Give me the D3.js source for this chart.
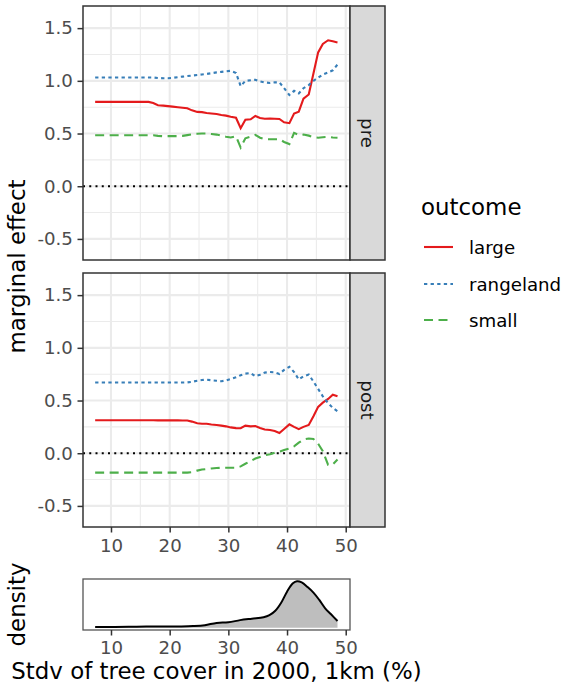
<!DOCTYPE html>
<html><head><meta charset="utf-8">
<script src="https://cdn.jsdelivr.net/npm/d3@7"></script>
<style>body{margin:0;background:#fff}svg{display:block}text{font-family:"DejaVu Sans",sans-serif}</style>
</head><body><svg id="c" width="572" height="686"></svg>
<script>
// ---------------- data ----------------
const treeCover = [7.3, 8.1, 8.9, 9.8, 10.6, 11.4, 12.3, 13.1, 13.9, 14.7, 15.6, 16.4, 17.2, 18.0, 18.9, 19.7, 20.5, 21.4, 22.2, 23.0, 23.8, 24.7, 25.5, 26.3, 27.1, 28.0, 28.8, 29.6, 30.4, 31.3, 32.1, 32.9, 33.8, 34.6, 35.4, 36.2, 37.1, 37.9, 38.7, 39.5, 40.4, 41.2, 42.0, 42.8, 43.7, 44.5, 45.3, 46.1, 47.0, 47.8, 48.6];
const periods = ["pre", "post"];
const outcomes = ["large", "rangeland", "small"];

const preLarge = [0.80,0.80,0.80,0.80,0.80,0.80,0.80,0.80,0.80,0.80,0.80,0.80,0.79,0.768,0.765,0.76,0.755,0.75,0.745,0.74,0.72,0.705,0.703,0.695,0.69,0.685,0.675,0.67,0.66,0.65,0.55,0.63,0.635,0.667,0.648,0.64,0.642,0.64,0.638,0.607,0.598,0.69,0.708,0.83,0.87,1.07,1.27,1.35,1.385,1.375,1.364];
const preRangeland = [1.032,1.032,1.032,1.032,1.032,1.032,1.032,1.032,1.032,1.032,1.032,1.032,1.032,1.027,1.025,1.025,1.028,1.035,1.04,1.045,1.05,1.055,1.06,1.065,1.072,1.08,1.085,1.09,1.095,1.075,0.95,1.0,1.005,1.01,0.995,0.985,0.98,0.985,0.985,0.93,0.865,0.905,0.88,0.93,0.96,1.0,1.03,1.06,1.08,1.10,1.155];
const preSmall = [0.484,0.484,0.484,0.484,0.484,0.484,0.484,0.484,0.484,0.484,0.484,0.484,0.484,0.478,0.475,0.475,0.475,0.476,0.478,0.485,0.492,0.498,0.50,0.50,0.495,0.49,0.48,0.47,0.462,0.475,0.367,0.455,0.47,0.487,0.46,0.446,0.446,0.446,0.446,0.42,0.40,0.506,0.486,0.49,0.48,0.465,0.46,0.465,0.468,0.462,0.46];

const postLarge = [0.313,0.313,0.313,0.313,0.313,0.313,0.313,0.313,0.313,0.313,0.313,0.313,0.313,0.312,0.312,0.312,0.312,0.312,0.311,0.31,0.30,0.285,0.28,0.28,0.272,0.268,0.262,0.255,0.245,0.238,0.237,0.262,0.255,0.258,0.24,0.225,0.22,0.21,0.192,0.23,0.274,0.25,0.228,0.25,0.268,0.35,0.44,0.48,0.515,0.555,0.54];
const postRangeland = [0.671,0.671,0.671,0.671,0.671,0.671,0.671,0.671,0.671,0.671,0.671,0.671,0.671,0.671,0.671,0.671,0.671,0.671,0.671,0.672,0.678,0.688,0.695,0.698,0.693,0.688,0.683,0.69,0.705,0.72,0.74,0.755,0.76,0.73,0.745,0.765,0.77,0.768,0.752,0.79,0.82,0.77,0.70,0.73,0.746,0.68,0.61,0.54,0.475,0.43,0.398];
const postSmall = [-0.184,-0.184,-0.184,-0.184,-0.184,-0.184,-0.184,-0.184,-0.184,-0.184,-0.184,-0.184,-0.184,-0.184,-0.184,-0.184,-0.184,-0.184,-0.184,-0.184,-0.18,-0.165,-0.155,-0.15,-0.145,-0.14,-0.138,-0.138,-0.138,-0.138,-0.125,-0.1,-0.075,-0.05,-0.035,-0.02,-0.01,0.005,0.015,0.03,0.045,0.065,0.10,0.13,0.14,0.135,0.09,0.02,-0.11,-0.105,-0.06];

const densityX = [7.3, 10, 13, 16, 19, 22, 24, 26, 28, 30, 32, 34, 36, 37, 38, 39, 40, 41, 41.7, 42.5, 43.5, 44.5, 45.5, 46.5, 47.5, 48.6];
const densityY = [0.0008, 0.0008, 0.0009, 0.0014, 0.0012, 0.0013, 0.0017, 0.0027, 0.0052, 0.0058, 0.0082, 0.0098, 0.0113, 0.0135, 0.0183, 0.027, 0.039, 0.048, 0.0502, 0.049, 0.044, 0.038, 0.030, 0.021, 0.0145, 0.0072];

const xTicks = [10, 20, 30, 40, 50];
const xMinor = [15, 25, 35, 45];
const yTicks = [-0.5, 0, 0.5, 1.0, 1.5];
const yMinor = [-0.25, 0.25, 0.75, 1.25];

// ---------------- layout ----------------
const svg = d3.select("#c");
const L = 83, R = 350, SR = 385;
const panelBox = {pre: [6, 260], post: [273, 527]};
const series = {
  pre: {large: preLarge, rangeland: preRangeland, small: preSmall},
  post: {large: postLarge, rangeland: postRangeland, small: postSmall}
};
const x = d3.scaleLinear().domain([5.23, 50.73]).range([L, R]);
const color = d3.scaleOrdinal().domain(outcomes).range(["#E41A1C", "#377EB8", "#4DAF4A"]);
const dash = {large: null, rangeland: "3.3,3.3", small: "9,5.5"};
const tickFont = 18.2, titleFont = 22.9;

function styleAxis(g) {
  g.select(".domain").remove();
  g.selectAll(".tick line").attr("stroke", "#333333").attr("stroke-width", 1.5);
  g.selectAll(".tick text").attr("fill", "#4D4D4D").attr("font-size", tickFont)
    .attr("font-family", "DejaVu Sans");
}

periods.forEach(p => {
  const [top, bot] = panelBox[p];
  const y = d3.scaleLinear().domain([-0.70, 1.71]).range([bot, top]);
  const g = svg.append("g");
  g.append("rect").attr("x", L).attr("y", top).attr("width", R - L).attr("height", bot - top).attr("fill", "#fff");
  // minor grid
  g.selectAll(".vmin").data(xMinor).join("line")
    .attr("x1", d => x(d)).attr("x2", d => x(d)).attr("y1", top).attr("y2", bot)
    .attr("stroke", "#EBEBEB").attr("stroke-width", 1.07);
  g.selectAll(".hmin").data(yMinor).join("line")
    .attr("y1", d => y(d)).attr("y2", d => y(d)).attr("x1", L).attr("x2", R)
    .attr("stroke", "#EBEBEB").attr("stroke-width", 1.07);
  // major grid
  g.selectAll(".vmaj").data(xTicks).join("line")
    .attr("x1", d => x(d)).attr("x2", d => x(d)).attr("y1", top).attr("y2", bot)
    .attr("stroke", "#EBEBEB").attr("stroke-width", 2.1);
  g.selectAll(".hmaj").data(yTicks).join("line")
    .attr("y1", d => y(d)).attr("y2", d => y(d)).attr("x1", L).attr("x2", R)
    .attr("stroke", "#EBEBEB").attr("stroke-width", 2.1);
  // zero line
  g.append("line").attr("x1", L).attr("x2", R).attr("y1", y(0)).attr("y2", y(0))
    .attr("stroke", "#000").attr("stroke-width", 2).attr("stroke-dasharray", "2,4.25");
  // series
  const line = d3.line().x((d, i) => x(treeCover[i])).y(d => y(d));
  outcomes.forEach(o => {
    g.append("path").attr("d", line(series[p][o])).attr("fill", "none")
      .attr("stroke", color(o)).attr("stroke-width", 2.1)
      .attr("stroke-dasharray", dash[o]);
  });
  // border
  g.append("rect").attr("x", L).attr("y", top).attr("width", R - L).attr("height", bot - top)
    .attr("fill", "none").attr("stroke", "#333333").attr("stroke-width", 1.5);
  // strip
  g.append("rect").attr("x", R).attr("y", top).attr("width", SR - R).attr("height", bot - top)
    .attr("fill", "#D9D9D9").attr("stroke", "#333333").attr("stroke-width", 1.5);
  const cy = (top + bot) / 2, cx = (R + SR) / 2;
  g.append("text").text(p).attr("transform", `translate(${cx},${cy}) rotate(90)`)
    .attr("text-anchor", "middle").attr("dominant-baseline", "central")
    .attr("font-size", tickFont).attr("fill", "#1A1A1A");
  // y axis
  const ax = g.append("g").attr("transform", `translate(${L},0)`)
    .call(d3.axisLeft(y).tickValues(yTicks).tickFormat(d => d.toFixed(1)).tickSize(5.5).tickPadding(4.6));
  styleAxis(ax);
});

// x axis for main panels
const xAxisMain = svg.append("g").attr("transform", `translate(0,${panelBox.post[1]})`)
  .call(d3.axisBottom(x).tickValues(xTicks).tickSize(5.5).tickPadding(6.6));
styleAxis(xAxisMain);

// density panel
const dTop = 579, dBot = 630;
const yd = d3.scaleLinear().domain([-0.0025, 0.0527]).range([dBot, dTop]);
const dg = svg.append("g");
dg.append("rect").attr("x", L).attr("y", dTop).attr("width", R - L).attr("height", dBot - dTop).attr("fill", "#fff");
const area = d3.area().curve(d3.curveCatmullRom.alpha(0.5))
  .x((d, i) => x(densityX[i])).y0(yd(0)).y1(d => yd(d));
const dline = d3.line().curve(d3.curveCatmullRom.alpha(0.5))
  .x((d, i) => x(densityX[i])).y(d => yd(d));
dg.append("path").attr("d", area(densityY)).attr("fill", "#BEBEBE");
dg.append("path").attr("d", dline(densityY)).attr("fill", "none").attr("stroke", "#000").attr("stroke-width", 2);
dg.append("rect").attr("x", L).attr("y", dTop).attr("width", R - L).attr("height", dBot - dTop)
  .attr("fill", "none").attr("stroke", "#555555").attr("stroke-width", 1.3);
const xAxisD = svg.append("g").attr("transform", `translate(0,${dBot})`)
  .call(d3.axisBottom(x).tickValues(xTicks).tickSize(5.5).tickPadding(5.6));
styleAxis(xAxisD);

// titles
svg.append("text").text("marginal effect")
  .attr("transform", `translate(25,${(panelBox.pre[0] + panelBox.post[1]) / 2}) rotate(-90)`)
  .attr("text-anchor", "middle").attr("font-size", titleFont).attr("fill", "#000");
svg.append("text").text("density")
  .attr("transform", `translate(25,${(dTop + dBot) / 2}) rotate(-90)`)
  .attr("text-anchor", "middle").attr("font-size", titleFont).attr("fill", "#000");
svg.append("text").text("Stdv of tree cover in 2000, 1km (%)")
  .attr("x", (L + R) / 2).attr("y", 679).attr("text-anchor", "middle")
  .attr("font-size", titleFont).attr("fill", "#000");

// legend
const lg = svg.append("g");
lg.append("text").text("outcome").attr("x", 421).attr("y", 215).attr("font-size", titleFont).attr("fill", "#000");
const keyY = {large: 247, rangeland: 284, small: 320};
outcomes.forEach(o => {
  lg.append("line").attr("x1", 424).attr("x2", 453).attr("y1", keyY[o]).attr("y2", keyY[o])
    .attr("stroke", color(o)).attr("stroke-width", 2.1).attr("stroke-dasharray", dash[o]);
  lg.append("text").text(o).attr("x", 469).attr("y", keyY[o] + 6.5)
    .attr("font-size", tickFont).attr("fill", "#000");
});
</script>
</body></html>
